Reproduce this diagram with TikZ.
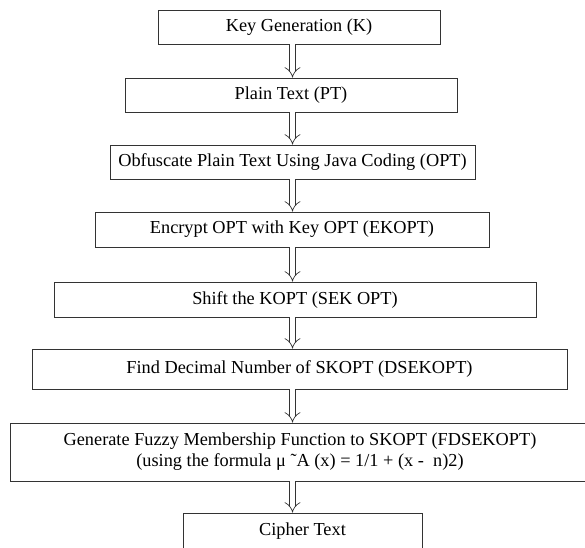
\documentclass[tikz,border=0pt]{standalone}
\usepackage{fontspec}
\setmainfont{Liberation Serif}
\usetikzlibrary{arrows.meta}
\tikzset{
  stepbox/.style={draw=black!80, line width=0.8pt, rectangle, inner sep=0pt, align=center,
    font=\fontsize{18.3}{21}\selectfont},
  flowarr/.style={draw=black!80, line width=0.7pt, double=white, double distance=5pt, -{Implies}}
}
\begin{document}
\begin{tikzpicture}[x=1pt,y=-1pt]
\useasboundingbox (0,0) rectangle (585,547);
\clip (0,0) rectangle (585,547);
\node[stepbox, minimum width=282pt, minimum height=34pt] (n1) at (299,27) {Key Generation (K)};
\node[stepbox, minimum width=332pt, minimum height=34pt] (n2) at (291,95) {Plain Text (PT)};
\node[stepbox, minimum width=365pt, minimum height=34pt] (n3) at (292.5,162) {Obfuscate Plain Text Using Java Coding (OPT)};
\node[stepbox, minimum width=394pt, minimum height=35pt] (n4) at (292,229.5) {Encrypt OPT with Key OPT (EKOPT)};
\node[stepbox, minimum width=482pt, minimum height=35pt] (n5) at (295,299.5) {Shift the KOPT (SEK OPT)};
\node[stepbox, minimum width=535pt, minimum height=40pt] (n6) at (299.5,369) {Find Decimal Number of SKOPT (DSEKOPT)};
\node[stepbox, minimum width=580pt, minimum height=58pt] (n7) at (300,452) {Generate Fuzzy Membership Function to SKOPT (FDSEKOPT)\\(using the formula μ ˜A (x) = 1/1 + (x -\enspace n)2)};
\node[stepbox, minimum width=239pt, minimum height=37pt] (n8) at (302.5,531.5) {Cipher Text};
\coordinate (ax) at (292.5,0);
\draw[flowarr] (n1.south -| ax) -- (n2.north -| ax);
\draw[flowarr] (n2.south -| ax) -- (n3.north -| ax);
\draw[flowarr] (n3.south -| ax) -- (n4.north -| ax);
\draw[flowarr] (n4.south -| ax) -- (n5.north -| ax);
\draw[flowarr] (n5.south -| ax) -- (n6.north -| ax);
\draw[flowarr] (n6.south -| ax) -- (n7.north -| ax);
\draw[flowarr] (n7.south -| ax) -- (n8.north -| ax);
\end{tikzpicture}
\end{document}
